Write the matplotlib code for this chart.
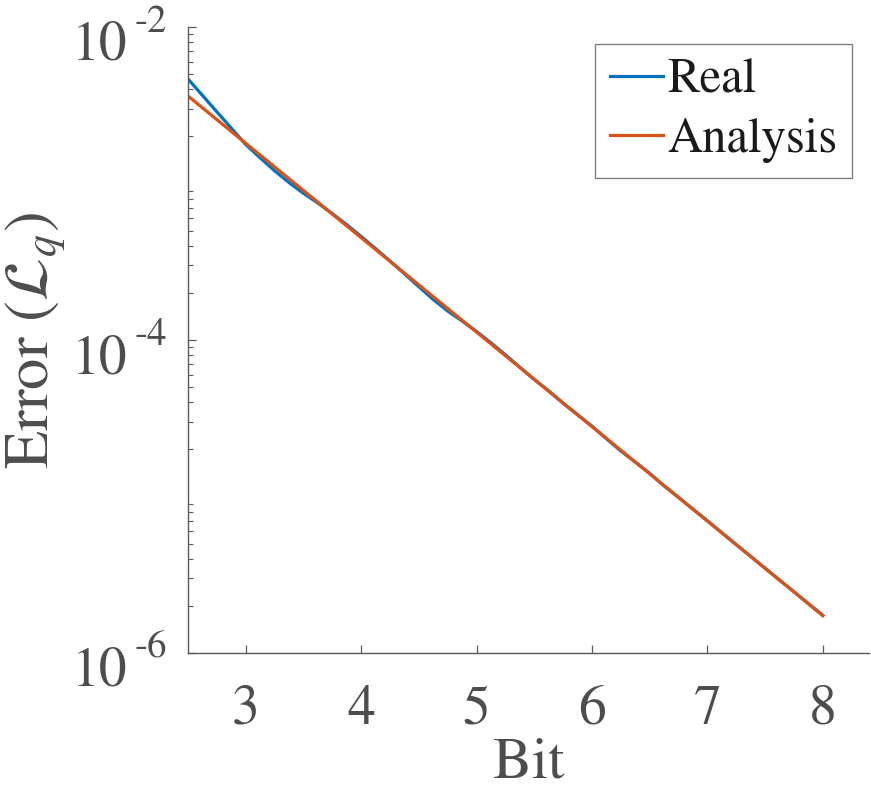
import numpy as np
import matplotlib
matplotlib.use("Agg")
import matplotlib.pyplot as plt
from matplotlib.ticker import FixedLocator, NullFormatter, LogLocator

# ---- data ----
bits_real = [2.5, 2.75, 3.0, 3.125, 3.25, 3.375, 3.5, 3.625, 3.75, 3.875, 4.0,
             4.125, 4.25, 4.375, 4.5, 4.625, 4.75, 4.875, 5.0, 5.125, 5.25,
             5.375, 5.5, 5.625, 5.75, 5.875, 6.0, 6.125, 6.25, 6.375, 6.5,
             6.625, 6.75, 7.0, 7.25, 7.5, 7.75, 8.0]
err_real = [4.656e-3, 2.871e-3, 1.775e-3, 1.458e-3, 1.206e-3, 1.014e-3, 8.661e-4,
            7.500e-4, 6.421e-4, 5.461e-4, 4.589e-4, 3.840e-4, 3.197e-4, 2.651e-4,
            2.188e-4, 1.814e-4, 1.531e-4, 1.323e-4, 1.133e-4, 9.590e-5, 8.044e-5,
            6.697e-5, 5.590e-5, 4.731e-5, 3.941e-5, 3.327e-5, 2.817e-5, 2.340e-5,
            1.953e-5, 1.661e-5, 1.406e-5, 1.168e-5, 9.865e-6, 6.988e-6, 4.925e-6,
            3.478e-6, 2.458e-6, 1.737e-6]
bits_analysis = [2.5, 3.0, 3.5, 4.0, 4.5, 5.0, 5.5, 6.0, 6.5, 7.0, 7.5, 8.0]
err_analysis = [3.622e-3, 1.808e-3, 9.03e-4, 4.505e-4, 2.249e-4, 1.123e-4,
                5.605e-5, 2.797e-5, 1.396e-5, 6.97e-6, 3.479e-6, 1.737e-6]
x_ticks = [3, 4, 5, 6, 7, 8]
y_ticks = [1e-6, 1e-4, 1e-2]
y_tick_base = ["10", "10", "10"]
y_tick_exp = ["-6", "-4", "-2"]
series_names = ["Real", "Analysis"]

plt.rcParams['font.family'] = ['STIXGeneral', 'DejaVu Serif']
plt.rcParams['mathtext.fontset'] = 'stix'

axis_col = '#5a5a5a'
text_col = '#4d4d4d'

fig = plt.figure(figsize=(8.71, 7.89), dpi=100)
ax = fig.add_axes([188/871, 1-653/789, 681/871, 626/789])

ax.plot(bits_real, err_real, color='#0072BD', lw=2.3, label=series_names[0])
ax.plot(bits_analysis, err_analysis, color='#D95319', lw=2.3, label=series_names[1])

ax.set_yscale('log')
ax.set_xlim(2.5, 8.4)
ax.set_ylim(1e-6, 1e-2)

ax.xaxis.set_major_locator(FixedLocator(x_ticks))
ax.yaxis.set_major_locator(FixedLocator(y_ticks))
ax.yaxis.set_major_formatter(NullFormatter())
ax.yaxis.set_minor_locator(LogLocator(base=10, subs=np.arange(2, 10)))
ax.yaxis.set_minor_formatter(NullFormatter())

for s in ['top', 'right']:
    ax.spines[s].set_visible(False)
for s in ['left', 'bottom']:
    ax.spines[s].set_color(axis_col)
    ax.spines[s].set_linewidth(1.0)

ax.tick_params(axis='both', which='major', direction='in', length=6, width=0.9,
               colors=axis_col, labelcolor=text_col, labelsize=40)
ax.tick_params(axis='y', which='minor', direction='in', length=3.5, width=0.8,
               colors=axis_col)
ax.tick_params(axis='x', pad=23)

# y tick labels in MATLAB style: base plus raised exponent
ytr = ax.get_yaxis_transform()
for yv, b, e in zip(y_ticks, y_tick_base, y_tick_exp):
    ax.annotate(b, xy=(0, yv), xycoords=ytr, xytext=(-61*0.72, -33*0.72),
                textcoords='offset points', ha='right', va='baseline',
                fontsize=40, color=text_col, annotation_clip=False)
    ax.annotate(e, xy=(0, yv), xycoords=ytr, xytext=(-54*0.72, -5*0.72),
                textcoords='offset points', ha='left', va='baseline',
                fontsize=28, color=text_col, annotation_clip=False)

ax.set_xlabel('Bit', fontsize=42, color=text_col, va='baseline')
ax.xaxis.set_label_coords(0.5, (653-777)/626)
ax.set_ylabel(r'Error ($\mathcal{L}_q$)', fontsize=45, color=text_col)
ax.yaxis.set_label_coords((68-188)/681, 0.5)

leg = ax.legend(loc='upper right', bbox_to_anchor=(852/871, 1-44/789),
                bbox_transform=fig.transFigure, borderaxespad=0,
                fontsize=35, frameon=True, fancybox=False, framealpha=1,
                edgecolor='#808080', handlelength=1.1, handletextpad=0.08,
                borderpad=0.3, labelspacing=0.3)
leg.get_frame().set_linewidth(1.0)
for t in leg.get_texts():
    t.set_color('#1a1a1a')

fig.savefig('out.png', dpi=100)
